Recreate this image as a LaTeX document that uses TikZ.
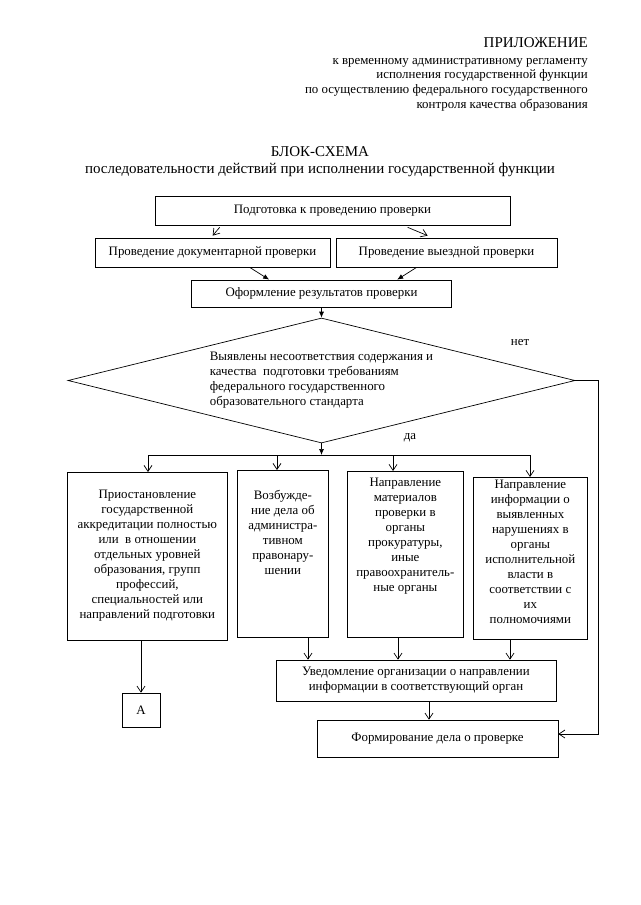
\documentclass[tikz,border=0pt]{standalone}
\usepackage{fontspec}
\setmainfont{Liberation Serif}
\usetikzlibrary{shapes.geometric,arrows.meta}

\newcommand{\celltxt}[4]{\parbox[c][#2][t]{#1}{\centering\vspace*{#3}#4\par}}

\begin{document}
\begin{tikzpicture}[
	x=1pt, y=-1pt,
	every node/.style={font=\fontsize{12.9}{15}\selectfont},
	flatbox/.style={rectangle, draw, line width=0.7pt, inner sep=0pt},
	tallbox/.style={rectangle, draw, line width=0.7pt, inner sep=0pt, anchor=north west},
	decision/.style={diamond, draw, line width=0.7pt, aspect=4, minimum width=507pt, minimum height=125pt, inner sep=0pt, align=left},
	openarrow/.style={-{Straight Barb[length=6pt,width=8pt]}, line width=0.7pt},
	fillarrow/.style={-{Latex[length=6pt,width=5pt]}, line width=0.7pt},
	]
	\useasboundingbox (0,0) rectangle (640,905);

	%Header
	\node[anchor=east, inner sep=0pt, font=\fontsize{15}{17}\selectfont] (appendix) at (588,43) {ПРИЛОЖЕНИЕ};
	\node[anchor=north east, inner sep=0pt, align=right, font=\fontsize{12.9}{14.6}\selectfont] (regulation) at (588,58) {к временному административному регламенту\\исполнения государственной функции\\по осуществлению федерального государственного\\контроля качества образования};
	\node[font=\fontsize{15}{17}\selectfont] (title) at (320,152) {БЛОК-СХЕМА};
	\node[font=\fontsize{15}{17}\selectfont] (subtitle) at (320,170) {последовательности действий при исполнении государственной функции};

	%Nodes
	\node[flatbox, minimum width=355pt, minimum height=29pt] (prep) at (332.5,210.5) {Подготовка к проведению проверки};
	\node[flatbox, minimum width=235pt, minimum height=29pt] (doc) at (212.5,252.5) {Проведение документарной проверки};
	\node[flatbox, minimum width=221pt, minimum height=29pt] (field) at (446.5,252.5) {Проведение выездной проверки};
	\node[flatbox, minimum width=260pt, minimum height=27pt] (result) at (321.5,293.5) {Оформление результатов проверки};
	\node[decision] (check) at (321.5,380.5) {Выявлены несоответствия содержания и\\качества\ \ подготовки требованиям\\федерального государственного\\образовательного стандарта};
	\node (no) at (520,343) {нет};
	\node (yes) at (410,438) {да};

	\node[tallbox] (suspend) at (67,472) {\celltxt{160pt}{168pt}{18pt}{Приостановление\\государственной\\аккредитации полностью\\или\ \ в отношении\\отдельных уровней\\образования, групп\\профессий,\\специальностей или\\направлений подготовки}};
	\node[tallbox] (offence) at (237,470) {\celltxt{91pt}{167pt}{20pt}{Возбужде-\\ние дела об\\администра-\\тивном\\правонару-\\шении}};
	\node[tallbox] (prosecution) at (347,471) {\celltxt{116pt}{166pt}{7pt}{Направление\\материалов\\проверки в\\органы\\прокуратуры,\\иные\\правоохранитель-\\ные органы}};
	\node[tallbox] (authorities) at (473,477) {\celltxt{114pt}{162pt}{3pt}{Направление\\информации о\\выявленных\\нарушениях в\\органы\\исполнительной\\власти в\\соответствии с\\их\\полномочиями}};

	\node[flatbox, minimum width=38pt, minimum height=34pt] (A) at (141,710) {А};
	\node[flatbox, minimum width=280pt, minimum height=41pt, align=center] (notify) at (416,680.5) {Уведомление организации о направлении\\информации в соответствующий орган};
	\node[flatbox, minimum width=241pt, minimum height=37pt] (form) at (437.5,738.5) {Формирование дела о проверке};

	%Lines
	\draw[openarrow] ([xshift=65pt,yshift=-2pt]prep.south west) -- ([xshift=118pt,yshift=2pt]doc.north west);
	\draw[openarrow] ([xshift=253pt,yshift=-2pt]prep.south west) -- ([xshift=92pt,yshift=2pt]field.north west);
	\draw[fillarrow] ([xshift=155pt]doc.south west) -- ([xshift=78pt]result.north west);
	\draw[fillarrow] ([xshift=81pt]field.south west) -- ([xshift=206pt]result.north west);
	\draw[fillarrow] (result.south) -- (check.north);

	\coordinate (fork) at (321.5,455);
	\coordinate (forkL) at (148,455);
	\coordinate (forkR) at (530,455);
	\draw[fillarrow] (check.south) -- (fork);
	\draw[line width=0.7pt] (forkL) -- (forkR);
	\foreach \n/\x in {suspend/148, offence/277, prosecution/393, authorities/530}
		\draw[openarrow] (\x,455) -- (\n.north -| \x,455);

	\draw[openarrow] (suspend.south -| A.north) -- (A.north);
	\foreach \n/\x in {offence/308, prosecution/398, authorities/510}
		\draw[openarrow] (\n.south -| \x,0) -- (notify.north -| \x,0);
	\draw[openarrow] (notify.south -| 429,0) -- (form.north -| 429,0);

	\coordinate (nobend) at (598,734);
	\draw[openarrow] (check.east) -| (nobend) -- (nobend -| form.east);

\end{tikzpicture}
\end{document}
